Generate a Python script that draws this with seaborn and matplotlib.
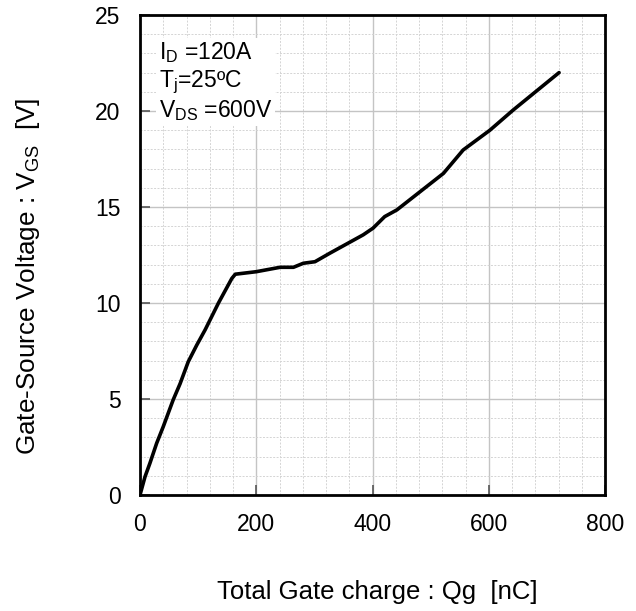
import matplotlib
matplotlib.use("Agg")
import matplotlib.pyplot as plt
from matplotlib.ticker import MultipleLocator
import seaborn as sns
import pandas as pd

qg = [0, 8.6, 17, 28.7, 40, 57, 69, 83, 97.5, 112, 135, 158, 164, 200, 241,
      264, 281, 301, 327, 384, 401, 421, 442, 482, 522, 556, 602, 642, 721]
vgs = [0, 0.95, 1.65, 2.7, 3.56, 4.95, 5.8, 6.94, 7.8, 8.6, 10.0, 11.28, 11.5,
       11.63, 11.86, 11.86, 12.07, 12.15, 12.6, 13.55, 13.9, 14.5, 14.85,
       15.8, 16.75, 17.97, 19.0, 20.05, 22.0]
x_ticks = [0, 200, 400, 600, 800]
y_ticks = [0, 5, 10, 15, 20, 25]
cond_lines = ["I$_\\mathregular{D}$ =120A", "T$_\\mathregular{j}$=25ºC",
              "V$_\\mathregular{DS}$ =600V"]

sns.set_style("white")
plt.rcParams["font.family"] = ["Liberation Sans", "DejaVu Sans"]
plt.rcParams["mathtext.fontset"] = "custom"
plt.rcParams["mathtext.rm"] = "Liberation Sans"
plt.rcParams["mathtext.it"] = "Liberation Sans"
plt.rcParams["text.color"] = "black"
plt.rcParams["axes.labelcolor"] = "black"
plt.rcParams["xtick.color"] = "black"
plt.rcParams["ytick.color"] = "black"

df = pd.DataFrame({"Qg": qg, "VGS": vgs})

fig = plt.figure(figsize=(6.36, 6.11), dpi=100)
ax = fig.add_axes([140 / 636, 116 / 611, 465 / 636, 480 / 611])

sns.lineplot(data=df, x="Qg", y="VGS", ax=ax, color="black", linewidth=2.6,
             sort=False, zorder=5)

ax.set_xlim(0, 800)
ax.set_ylim(0, 25)
ax.xaxis.set_major_locator(MultipleLocator(200))
ax.xaxis.set_minor_locator(MultipleLocator(40))
ax.yaxis.set_major_locator(MultipleLocator(5))
ax.yaxis.set_minor_locator(MultipleLocator(1))
ax.set_xticks(x_ticks)
ax.set_yticks(y_ticks)
ax.set_xticklabels([str(t) for t in x_ticks])
ax.set_yticklabels([str(t) for t in y_ticks])

ax.grid(which="major", color="#c4c4c4", linewidth=1.0, linestyle="-")
ax.grid(which="minor", color="#d4d4d4", linewidth=0.7, linestyle=(0, (2, 1.5)))
ax.set_axisbelow(True)

for s in ax.spines.values():
    s.set_color("black")
    s.set_linewidth(2.0)

ax.tick_params(which="major", direction="in", length=7, width=1.2,
               color="#555555", labelsize=16.5, labelcolor="black",
               left=True, bottom=True)
ax.tick_params(axis="x", which="major", pad=13)
ax.tick_params(axis="y", which="major", pad=14)
ax.tick_params(which="minor", length=0)

ax.set_xlabel("Total Gate charge : Qg  [nC]", fontsize=18.5, color="black")
ax.set_ylabel("Gate-Source Voltage : V$_\\mathregular{GS}$  [V]", fontsize=18.8,
              color="black")
ax.xaxis.set_label_coords(0.51, -0.178)
ax.yaxis.set_label_coords(-0.21, 0.455)

ax.text(0.04, 0.947, "\n".join(cond_lines), transform=ax.transAxes,
        fontsize=16.5, va="top", ha="left", linespacing=1.15, zorder=6,
        color="black", bbox=dict(facecolor="white", edgecolor="none", pad=2))

fig.savefig("out.png", dpi=100)
